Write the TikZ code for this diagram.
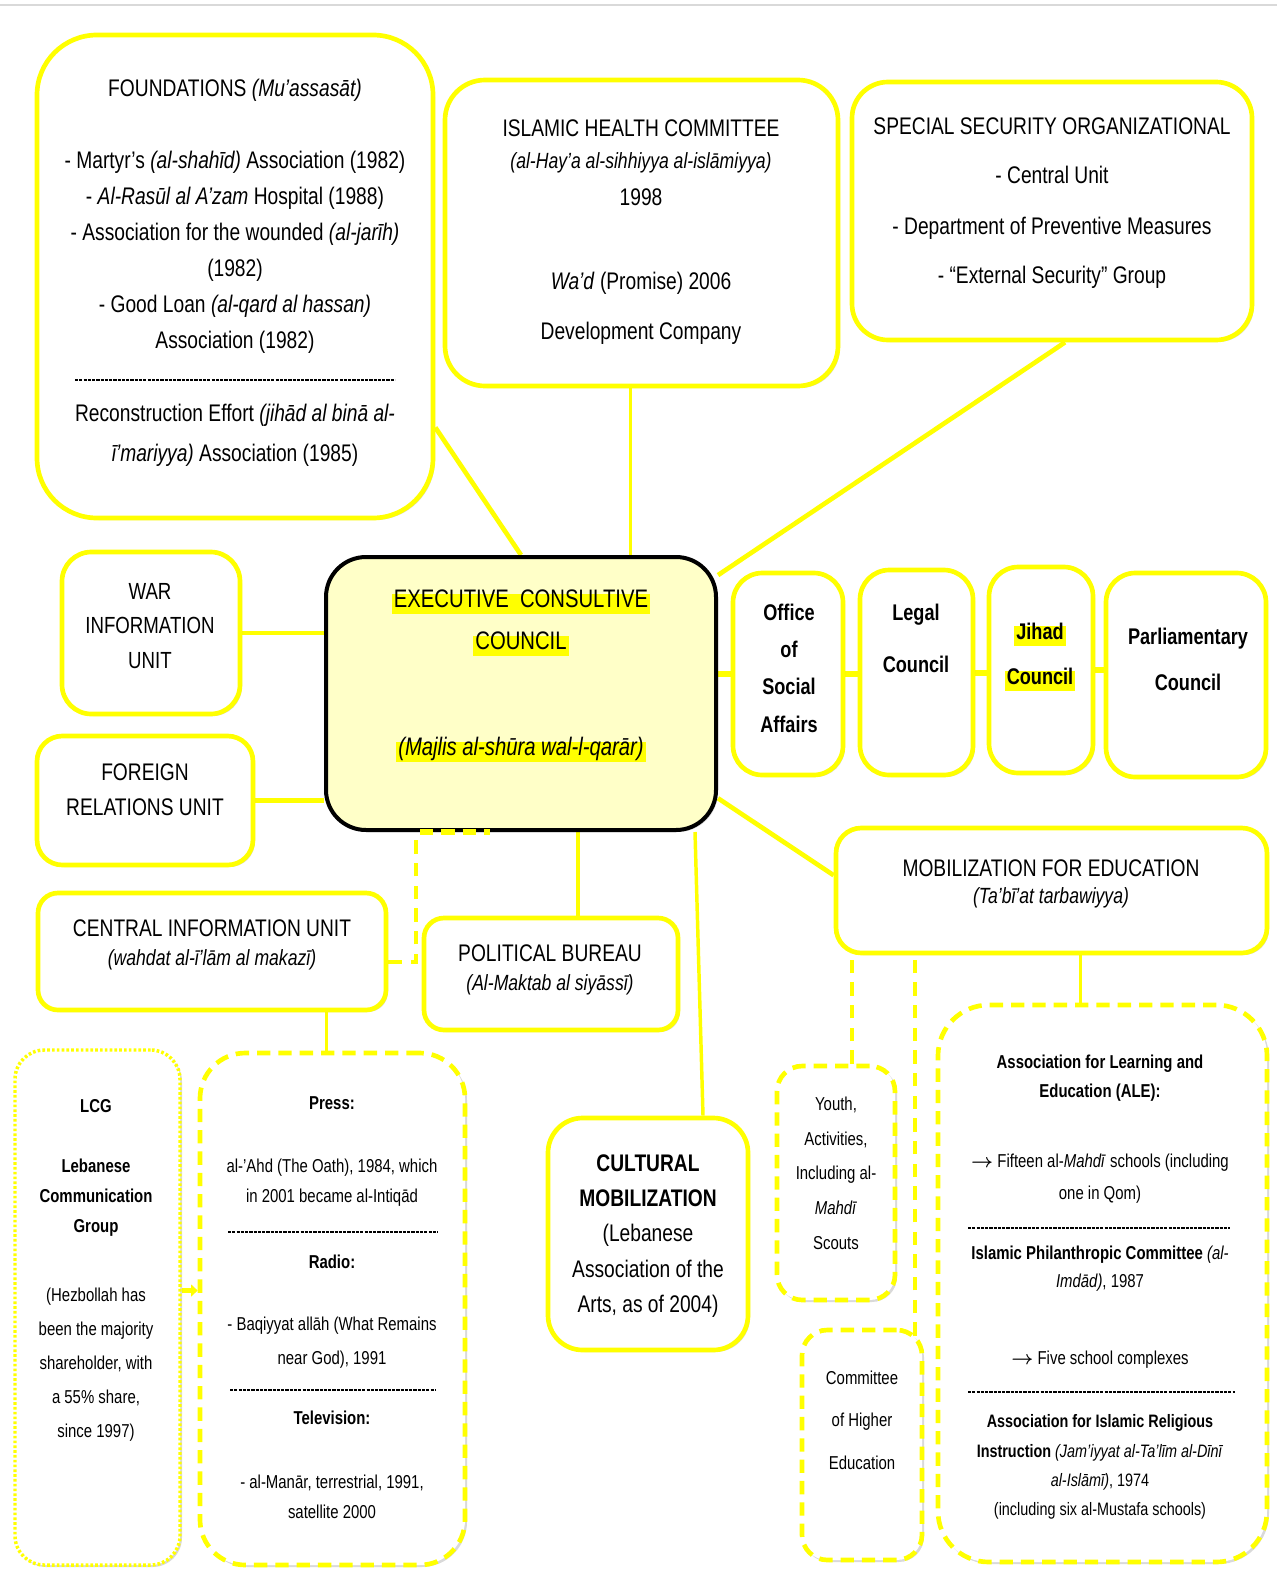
\documentclass[tikz,border=0pt]{standalone}
\usepackage{fontspec}
\setmainfont{Liberation Sans}[FakeStretch=0.8]
\usetikzlibrary{fit,shadows,backgrounds,arrows.meta}
\definecolor{ylw}{RGB}{255,255,0}
\definecolor{execfill}{RGB}{255,255,200}
\newcommand\fsz[2]{\fontsize{#1}{#2}\selectfont}
\newcommand\myarr{\ensuremath{\boldsymbol{\rightarrow}}}
\usepackage{amsmath}
\begin{document}
\begin{tikzpicture}[x=0.75pt,y=-0.75pt,
  box/.style={draw=ylw, line width=3.5pt, fill=white, inner sep=0pt,
    drop shadow={shadow xshift=1.5pt, shadow yshift=-1.5pt, opacity=0.3}},
  dbox/.style={box, dash pattern=on 10pt off 6pt},
  dotbox/.style={box, line width=2.6pt, dash pattern=on 2pt off 1.6pt},
  conn/.style={draw=ylw, line width=3.5pt},
  tconn/.style={draw=ylw, line width=2.6pt},
  dconn/.style={draw=ylw, line width=3.2pt, dash pattern=on 10pt off 7pt},
  txt/.style={align=center, inner sep=0pt, text=black},
  hl/.style={fill=ylw, inner xsep=1.5pt, inner ysep=2.5pt, text height=0.75em, text depth=0.22em},
  sep/.style={draw=black, line width=1.1pt, dash pattern=on 2.4pt off 0.8pt}]
\useasboundingbox (0,0) rectangle (1277,1573);
\draw[black!15, line width=1pt] (0,5) -- (1277,5);

% ---------- boxes ----------
\node[box, rounded corners=45pt, fit={(37,35) (433,518)}] (found) {};
\node[box, rounded corners=30pt, fit={(445,80) (838,386)}] (health) {};
\node[box, rounded corners=27pt, fit={(852,82) (1252,340)}] (security) {};
\node[box, draw=black, line width=3pt, fill=execfill, rounded corners=30pt, fit={(326,557) (716,830)}] (exec) {};
\node[box, rounded corners=22pt, fit={(62,552) (240,714)}] (war) {};
\node[box, rounded corners=19pt, fit={(37,736) (253,865)}] (foreign) {};
\node[box, rounded corners=22pt, fit={(733,573) (843,775)}] (office) {};
\node[box, rounded corners=22pt, fit={(860,570) (973,775)}] (legal) {};
\node[box, rounded corners=22pt, fit={(989,567) (1093,773)}] (jihad) {};
\node[box, rounded corners=22pt, fit={(1106,573) (1266,777)}] (parl) {};
\node[box, rounded corners=19pt, fit={(836,828) (1267,953)}] (mob) {};
\node[box, rounded corners=15pt, fit={(38,893) (386,1010)}] (central) {};
\node[box, rounded corners=15pt, fit={(424,918) (678,1030)}] (pol) {};
\node[box, rounded corners=26pt, fit={(548,1118) (748,1350)}] (cult) {};
\node[dotbox, rounded corners=22pt, fit={(15,1050) (180,1565)}] (lcg) {};
\node[dbox, rounded corners=34pt, fit={(200,1053) (465,1565)}] (press) {};
\node[dbox, rounded corners=19pt, fit={(777,1066) (895,1300)}] (youth) {};
\node[dbox, rounded corners=19pt, fit={(802,1330) (922,1560)}] (comm) {};
\node[dbox, rounded corners=38pt, fit={(938,1005) (1267,1562)}] (ale) {};

% ---------- connectors ----------
\begin{pgfonlayer}{background}
\draw[conn] (found.-37.8) -- (exec.north);
\draw[tconn] ([xshift=-8.25pt]health.south) -- ([xshift=-8.25pt]health.south |- exec.north);
\draw[conn] ([xshift=9.75pt]security.south) -- (exec.31.3);
\draw[conn] (war.east) -- (war.east -| exec.west);
\draw[conn] (foreign.east) -- (foreign.east -| exec.west);
\draw[conn, line width=4.5pt] (office.west -| exec.east) -- (office.west);
\draw[conn, line width=4.5pt] (office.east) -- (office.east -| legal.west);
\draw[conn, line width=4.5pt] (legal.east) -- (legal.east -| jihad.west);
\draw[conn, line width=4.5pt] (jihad.east) -- (jihad.east -| parl.west);
\draw[conn] (exec.-28.6) -- (mob.176.7);
\coordinate (cd) at (416,962);
\draw[dconn] (central.east |- cd) -- (cd) -- (cd |- exec.south);
\draw[tconn] ([xshift=20.25pt]pol.north) -- ([xshift=20.25pt]pol.north |- exec.south);
\draw[tconn] ([xshift=41.25pt]cult.north) -- ([xshift=130.5pt]exec.south);
\draw[tconn] ([xshift=-4.5pt]press.north) -- ([xshift=-4.5pt]press.north |- central.south);
\draw[conn, -{Triangle[length=5pt,width=9pt]}] ([yshift=12.75pt]lcg.east) -- ([yshift=12.75pt]lcg.east -| press.west);
\draw[dconn] ([xshift=12pt]youth.north) -- ([xshift=12pt]youth.north |- mob.south);
\draw[dconn] ([xshift=39.75pt,yshift=-6pt]comm.north) -- ([xshift=39.75pt]comm.north |- mob.south);
\draw[tconn] ([xshift=-16.5pt]ale.north) -- ([xshift=-16.5pt]ale.north |- mob.south);
\end{pgfonlayer}
\draw[draw=ylw, line width=4pt, dash pattern=on 10pt off 6pt] ([xshift=-75.75pt]exec.south) -- ([xshift=-23.25pt]exec.south);

% ---------- texts ----------
\node[txt, font=\fsz{18}{22}] (found-t1) at (235,90) {FOUNDATIONS \textit{(Mu'assasāt)}};
\node[txt, font=\fsz{18}{27}] (found-t2) at (235,252) {- Martyr's \textit{(al-shahīd)} Association (1982)\\
- \textit{Al-Rasūl al A'zam} Hospital (1988)\\
- Association for the wounded \textit{(al-jarīh)}\\
(1982)\\
- Good Loan \textit{(al-qard al hassan)}\\
Association (1982)};
\draw[sep] (75,380) -- (395,380);
\node[txt, font=\fsz{18}{30}] (found-t3) at (235,435) {Reconstruction Effort \textit{(jihād al binā al-}\\\textit{ī'mariyya)} Association (1985)};

\node[txt, font=\fsz{18}{22}] (health-t1) at (641,128) {ISLAMIC HEALTH COMMITTEE};
\node[txt, font=\fsz{16.5}{20}] (health-t2) at (641,163) {\textit{(al-Hay'a al-sihhiyya al-islāmiyya)}};
\node[txt, font=\fsz{18}{22}] (health-t3) at (641,197) {1998};
\node[txt, font=\fsz{18}{22}] (health-t4) at (641,283) {\textit{Wa'd} (Promise) 2006};
\node[txt, font=\fsz{18}{22}] (health-t5) at (641,333) {Development Company};

\node[txt, font=\fsz{18}{22}] (sec-t1) at (1052,126) {SPECIAL SECURITY ORGANIZATIONAL};
\node[txt, font=\fsz{18}{22}] (sec-t2) at (1052,175) {- Central Unit};
\node[txt, font=\fsz{18}{22}] (sec-t3) at (1052,228) {- Department of Preventive Measures};
\node[txt, font=\fsz{18}{22}] (sec-t4) at (1052,277) {- “External Security” Group};

\node[txt, hl, font=\fsz{19}{23}] (exec-t1) at (521,604) {EXECUTIVE\ \ CONSULTIVE};
\node[txt, hl, font=\fsz{19}{23}] (exec-t2) at (521,646) {COUNCIL};
\node[txt, hl, font=\fsz{19}{23}] (exec-t3) at (521,752) {\textit{(Majlis al-shūra wal-l-qarār)}};

\node[txt, font=\fsz{17.5}{26}] (war-t) at (150,626) {WAR\\INFORMATION\\UNIT};
\node[txt, font=\fsz{18}{26}] (foreign-t) at (145,790) {FOREIGN\\RELATIONS UNIT};

\node[txt, font=\bfseries\fsz{17}{28}] (office-t) at (789,668) {Office\\of\\Social\\Affairs};
\node[txt, font=\bfseries\fsz{17}{39}] (legal-t) at (916,638) {Legal\\Council};
\node[txt, hl, font=\bfseries\fsz{17}{22}] (jihad-t1) at (1040,636) {Jihad};
\node[txt, hl, font=\bfseries\fsz{17}{22}] (jihad-t2) at (1040,681) {Council};
\node[txt, font=\bfseries\fsz{17}{34.5}] (parl-t) at (1188,659) {Parliamentary\\Council};

\node[txt, font=\fsz{18}{22}] (mob-t1) at (1051,868) {MOBILIZATION FOR EDUCATION};
\node[txt, font=\fsz{16.5}{20}] (mob-t2) at (1051,898) {\textit{(Ta'bī'at tarbawiyya)}};

\node[txt, font=\fsz{18}{22}] (central-t1) at (212,928) {CENTRAL INFORMATION UNIT};
\node[txt, font=\fsz{16.5}{20}] (central-t2) at (212,960) {\textit{(wahdat al-ī'lām al makazī)}};

\node[txt, font=\fsz{18}{22}] (pol-t1) at (550,953) {POLITICAL BUREAU};
\node[txt, font=\fsz{16.5}{20}] (pol-t2) at (550,985) {\textit{(Al-Maktab al siyāssī)}};

\node[txt, font=\fsz{18}{26.5}] (cult-t) at (648,1236) {\textbf{CULTURAL}\\\textbf{MOBILIZATION}\\(Lebanese\\Association of the\\Arts, as of 2004)};

\node[txt, font=\bfseries\fsz{14}{18}] (lcg-t1) at (96,1106) {LCG};
\node[txt, font=\bfseries\fsz{14}{22.5}] (lcg-t2) at (96,1198) {Lebanese\\Communication\\Group};
\node[txt, font=\fsz{14}{25.5}] (lcg-t3) at (96,1365) {(Hezbollah has\\been the majority\\shareholder, with\\a 55\% share,\\since 1997)};

\node[txt, font=\bfseries\fsz{14}{18}] (press-h1) at (332,1103) {Press:};
\node[txt, font=\fsz{14}{22.5}] (press-b1) at (332,1183) {al-'Ahd (The Oath), 1984, which\\in 2001 became al-Intiqād};
\draw[sep] (228,1232) -- (438,1232);
\node[txt, font=\bfseries\fsz{14}{18}] (press-h2) at (332,1262) {Radio:};
\node[txt, font=\fsz{14}{25.5}] (press-b2) at (332,1343) {- Baqiyyat allāh (What Remains\\near God), 1991};
\draw[sep] (230,1390) -- (435,1390);
\node[txt, font=\bfseries\fsz{14}{18}] (press-h3) at (332,1418) {Television:};
\node[txt, font=\fsz{14}{22.5}] (press-b3) at (332,1497) {- al-Manār, terrestrial, 1991,\\satellite 2000};

\node[txt, font=\fsz{14}{26}] (youth-t) at (836,1173) {Youth,\\Activities,\\Including al-\\\textit{Mahdī}\\Scouts};
\node[txt, font=\fsz{14}{32}] (comm-t) at (862,1420) {Committee\\of Higher\\Education};

\node[txt, font=\bfseries\fsz{14}{22}] (ale-h1) at (1100,1078) {Association for Learning and\\Education (ALE):};
\node[txt, font=\fsz{14}{24}] (ale-b1) at (1100,1179) {\myarr\ Fifteen al-\textit{Mahdī} schools (including\\one in Qom)};
\draw[sep] (968,1228) -- (1230,1228);
\node[txt, font=\fsz{14}{21}] (ale-h2) at (1100,1269) {\textbf{Islamic Philanthropic Committee} \textit{(al-}\\\textit{Imdād)}, 1987};
\node[txt, font=\fsz{14}{18}] (ale-b2) at (1100,1360) {\myarr\ Five school complexes};
\draw[sep] (968,1392) -- (1235,1392);
\node[txt, font=\fsz{13.5}{22}] (ale-h3) at (1100,1467) {\textbf{Association for Islamic Religious}\\\textbf{Instruction} \textit{(Jam'iyyat al-Ta'līm al-Dīnī}\\\textit{al-Islāmī)}, 1974\\(including six al-Mustafa schools)};
\end{tikzpicture}
\end{document}
